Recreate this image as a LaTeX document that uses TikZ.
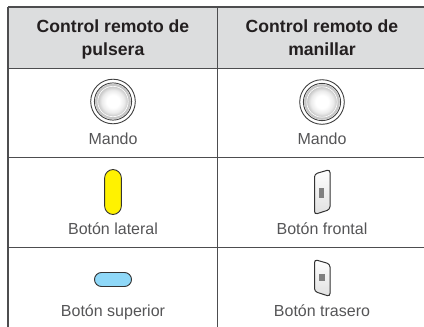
\documentclass[tikz,border=0pt]{standalone}
\usepackage{fontspec}
\setmainfont{Liberation Sans}
\definecolor{hdr}{HTML}{DCDDDE}
\definecolor{ink}{HTML}{555557}
\definecolor{head}{HTML}{231F20}
\definecolor{rule}{HTML}{4D4D4F}
\definecolor{yel}{HTML}{FFF200}
\definecolor{blu}{HTML}{8FD8F8}
\pgfdeclareradialshading{knobglow}{\pgfpoint{0bp}{0.2bp}}{%
  color(0bp)=(white);
  color(9bp)=(white);
  color(16bp)=(black!8);
  color(21bp)=(black!22);
  color(50bp)=(black!22)}
\tikzset{
  lbl/.style={inner sep=0pt,anchor=base,text=ink,font=\fontsize{16}{18}\selectfont},
  hd/.style={inner sep=0pt,anchor=base,text=head,font=\fontsize{17.6}{20}\selectfont\bfseries},
  grid/.style={draw=rule,line width=1.1pt},
  gridthick/.style={draw=rule,line width=1.9pt},
  pill/.style={draw=black!80,line width=0.9pt},
  ringline/.style={draw=black!75,line width=0.9pt},
  slab/.style={draw=black!80,line width=1pt,rounded corners=3pt,top color=white,bottom color=black!12},
  slabmark/.style={fill=black!50,draw=none}
}
\newcommand{\mandoknob}[2]{%
  \draw[ringline,fill=white] (#1,#2) circle (22.3);
  \draw[ringline,fill=white] (#1,#2) circle (18.6);
  \shade[shading=knobglow] (#1,#2) circle (17.8);
  \draw[white,line width=0.6pt] (#1,#2) circle (15.2);
}
\begin{document}
\begin{tikzpicture}[x=1pt,y=-1pt]
\useasboundingbox (0,0) rectangle (424,327);
\fill[white] (0,0) rectangle (424,327);
\fill[hdr] (8,7) rectangle (424,68.5);
\draw[grid] (8,7) -- (424,7);
\draw[grid,line width=0.8pt] (8,68.5) -- (424,68.5);
\draw[grid,line width=0.8pt] (8,157) -- (424,157);
\draw[grid,line width=0.8pt] (8,247.3) -- (424,247.3);
\draw[gridthick] (8.3,6.5) -- (8.3,327);
\draw[grid] (217.7,6.5) -- (217.7,327);
\node[hd] (h1a) at (113,32) {Control remoto de};
\node[hd] (h1b) at (113,55) {pulsera};
\node[hd] (h2a) at (322,32) {Control remoto de};
\node[hd] (h2b) at (322,55) {manillar};
\mandoknob{113}{101.5}
\mandoknob{322}{102}
\node[lbl] (m1) at (113,144) {Mando};
\node[lbl] (m2) at (322,144) {Mando};
\draw[pill,fill=yel,rounded corners=8.6pt] (104.6,169.5) rectangle (121.4,214.5);
\node[lbl] (l1) at (113,234) {Botón lateral};
\draw[pill,fill=blu,rounded corners=7pt] (94.5,272.5) rectangle (131.5,286.5);
\node[lbl] (s1) at (113,316) {Botón superior};
\draw[slab] (314.5,174) -- (330,169.5) -- (330,209.5) -- (314.5,214.5) -- cycle;
\fill[slabmark] (318.5,187.5) rectangle (323.5,197.5);
\node[lbl] (f1) at (322,234) {Botón frontal};
\draw[slab] (314.5,259.5) -- (330,264) -- (330,296.5) -- (314.5,291.5) -- cycle;
\fill[slabmark] (319,274) rectangle (325,281);
\node[lbl] (t1) at (322,316) {Botón trasero};
\end{tikzpicture}
\end{document}
